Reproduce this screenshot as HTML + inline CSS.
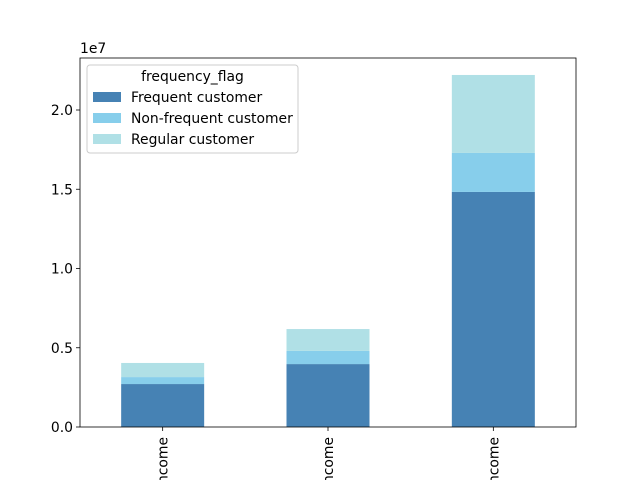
<!DOCTYPE html>
<html><head><meta charset="utf-8"><style>html,body{margin:0;background:#fff;width:640px;height:480px;overflow:hidden}svg{font-family:"DejaVu Sans","Liberation Sans",sans-serif;display:block;overflow:hidden}</style></head>
<body>
<svg id="c" width="640" height="480"></svg>
<script>
const categories=["High income","Low income","Middle income"];
const frequent=[2.71e6,3.97e6,14.83e6];
const nonFrequent=[0.44e6,0.83e6,2.46e6];
const regular=[0.89e6,1.38e6,4.92e6];
const yTicks=[0,0.5,1.0,1.5,2.0];
const yTickLabels=["0.0","0.5","1.0","1.5","2.0"];
const seriesNames=["Frequent customer","Non-frequent customer","Regular customer"];
const colors=["#4682b4","#87ceeb","#b0e0e6"];
const svg=document.getElementById('c');const NS="http://www.w3.org/2000/svg";
const L=80,R=576,T=58,B=427;
const FS=13.9;
const y=v=>B-v/1e7*158.5;
const x=i=>L+(i+0.5)*(R-L)/categories.length;
const bw=83;
function mk(t,a,p){const e=document.createElementNS(NS,t);for(const k in a)e.setAttribute(k,a[k]);(p||svg).appendChild(e);return e;}
const series=[frequent,nonFrequent,regular];
categories.forEach((c,i)=>{let base=0;series.forEach((s,j)=>{const r=mk('rect',{x:x(i)-bw/2,y:y(base+s[i]),width:bw,height:y(base)-y(base+s[i]),fill:colors[j]});


base+=s[i];});
mk('line',{x1:x(i),x2:x(i),y1:B,y2:B+4,stroke:'#000','stroke-width':0.8});
const t=mk('text',{x:0,y:0,transform:`translate(${x(i)+5},${B+10}) rotate(-90)`,'text-anchor':'end','font-size':FS});t.textContent=c;


});
yTicks.forEach((v,k)=>{mk('line',{x1:L-4,x2:L,y1:y(v*1e7),y2:y(v*1e7),stroke:'#000','stroke-width':0.8});
const t=mk('text',{x:L-7,y:y(v*1e7)+5,'text-anchor':'end','font-size':FS});t.textContent=yTickLabels[k];

});
const ax=mk('rect',{x:L,y:T,width:R-L,height:B-T,fill:'none',stroke:'#000','stroke-width':0.8});


const ex=mk('text',{x:L,y:T-5,'font-size':FS});ex.textContent="1e7";


const g=mk('g',{});


mk('rect',{x:87,y:65,width:211,height:88,fill:'#fff',stroke:'#ccc',rx:3},g);
const lt=mk('text',{x:192.5,y:81,'text-anchor':'middle','font-size':FS},g);lt.textContent="frequency_flag";
seriesNames.forEach((n,j)=>{mk('rect',{x:93,y:92+j*21,width:28,height:10,fill:colors[j]},g);
const t=mk('text',{x:131,y:102+j*21,'font-size':FS},g);t.textContent=n;

});
</script>
</body></html>
